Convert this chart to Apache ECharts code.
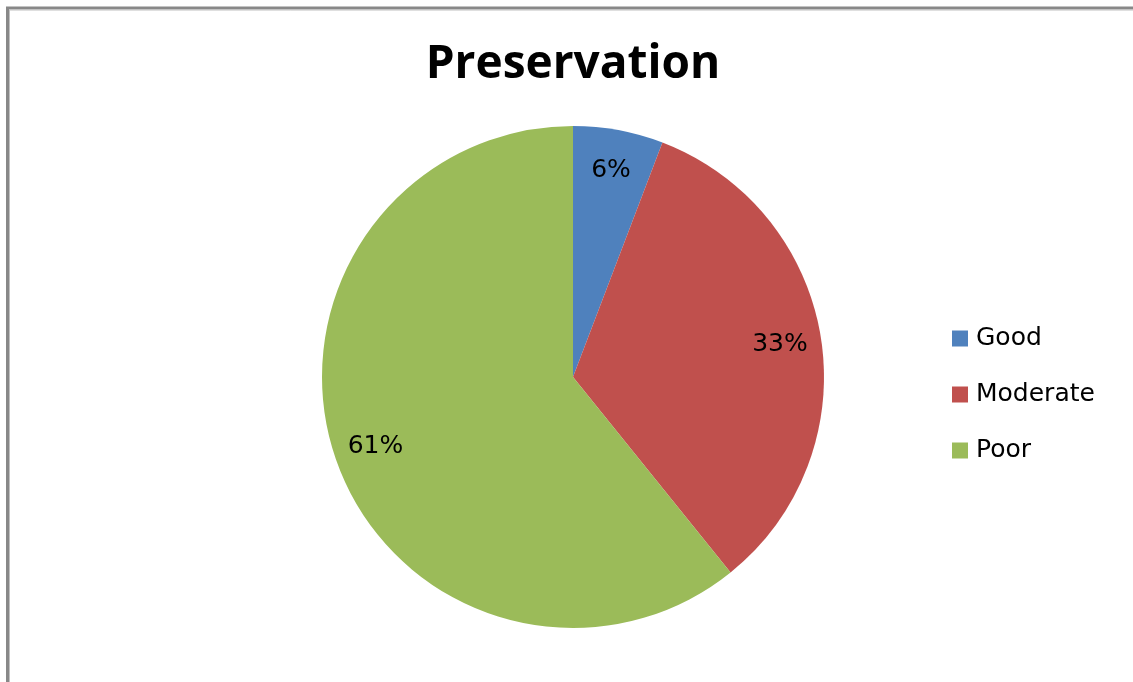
<!DOCTYPE html>
<html>
<head>
<meta charset="utf-8">
<script src="https://cdn.jsdelivr.net/npm/echarts@6/dist/echarts.min.js"></script>
<style>
  html, body { margin: 0; padding: 0; background: #fff; }
  #chart { width: 1133px; height: 682px; }
</style>
</head>
<body>
<div id="chart"></div>
<script>
var categories = ['Good', 'Moderate', 'Poor'];
var shares = [5.8, 33.4, 60.8];
var colors = ['#4F81BD', '#C0504D', '#9BBB59'];

var chart = echarts.init(document.getElementById('chart'), null, { renderer: 'canvas' });

var pieData = categories.map(function (name, i) {
  return { name: name, value: shares[i] };
});

var option = {
  animation: false,
  color: colors,
  title: {
    text: 'Preservation',
    left: 568,
    textAlign: 'center',
    top: 37,
    textStyle: {
      fontFamily: 'Open Sans',
      fontWeight: 'bold',
      fontSize: 46,
      color: '#000'
    }
  },
  legend: {
    orient: 'vertical',
    left: 947,
    top: 321,
    itemWidth: 16,
    itemHeight: 16,
    itemGap: 31,
    icon: 'rect',
    data: categories,
    textStyle: {
      fontFamily: 'DejaVu Sans',
      fontSize: 25,
      color: '#000',
      padding: [0, 0, 0, 3]
    }
  },
  graphic: [
    {
      type: 'polyline',
      silent: true,
      shape: { points: [[7.5, 682], [7.5, 8], [1133, 8]] },
      style: { stroke: '#888888', lineWidth: 3, fill: null }
    },
    {
      type: 'polyline',
      silent: true,
      shape: { points: [[9.5, 682], [9.5, 10], [1133, 10]] },
      style: { stroke: '#c0c0c0', lineWidth: 1, fill: null }
    }
  ],
  series: [
    {
      type: 'pie',
      center: [573, 377],
      radius: [0, 251],
      startAngle: 90,
      clockwise: true,
      label: { show: false },
      labelLine: { show: false },
      itemStyle: { borderWidth: 0 },
      data: pieData
    },
    {
      // transparent ring used only to place the percent labels near the rim
      type: 'pie',
      center: [573, 377],
      radius: [162, 251],
      startAngle: 90,
      clockwise: true,
      silent: true,
      itemStyle: { color: 'rgba(0,0,0,0)', borderWidth: 0 },
      label: {
        show: true,
        position: 'inside',
        formatter: function (p) { return Math.round(p.percent) + '%'; },
        fontFamily: 'DejaVu Sans',
        fontSize: 25,
        color: '#000'
      },
      labelLine: { show: false },
      data: pieData
    }
  ]
};

chart.setOption(option);
</script>
</body>
</html>
